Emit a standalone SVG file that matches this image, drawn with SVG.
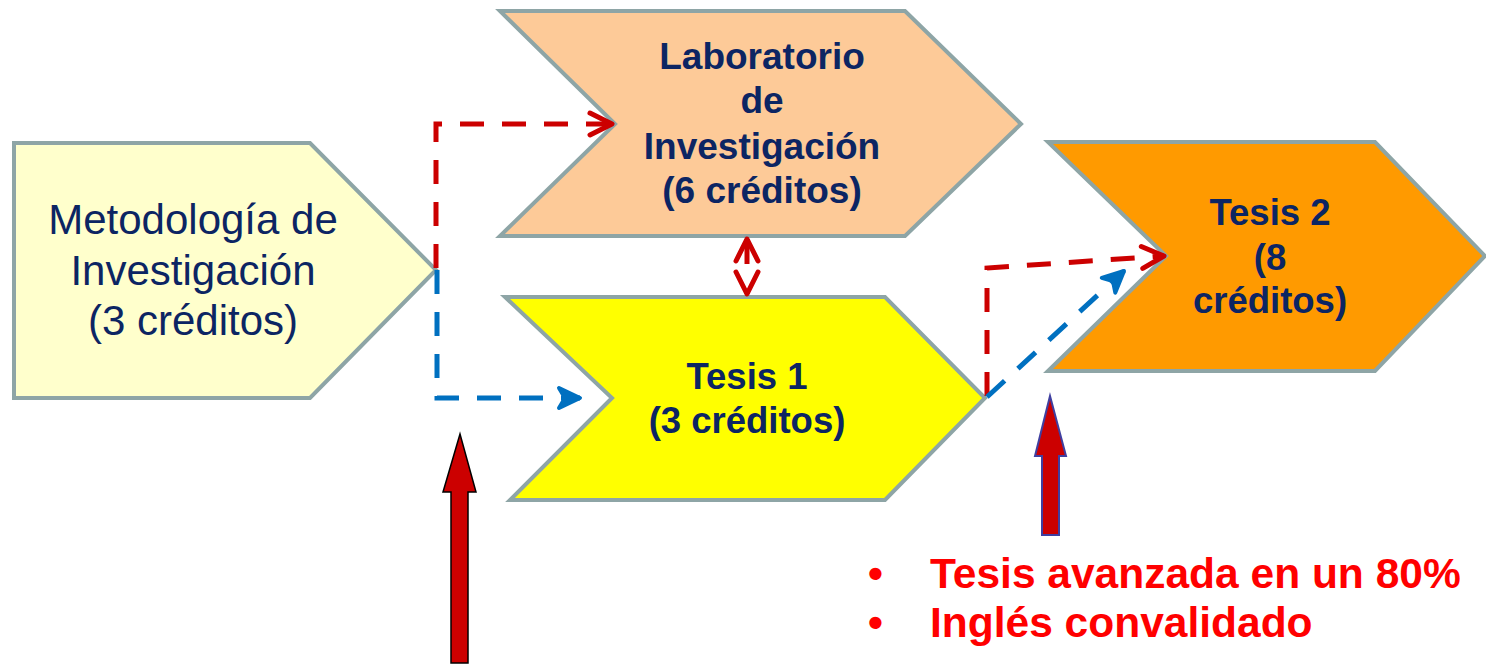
<svg xmlns="http://www.w3.org/2000/svg" width="1486" height="665" viewBox="0 0 1486 665">
<style>
.node{stroke:#8EA5A6;stroke-width:4;stroke-linejoin:miter}
.t{font-family:"Liberation Sans",Arial,sans-serif;fill:#0C2563;text-anchor:middle}
.b{font-weight:bold;font-size:36.5px}
.lb{font-weight:bold;font-size:37px}
.red{stroke:#CC0000;stroke-width:5;fill:none;stroke-dasharray:24 18}
.blue{stroke:#0070C0;stroke-width:5;fill:none;stroke-dasharray:24 18}
.note{font-family:"Liberation Sans",Arial,sans-serif;font-weight:bold;font-size:42.5px;fill:#FF0000}
</style>
<defs>
<marker id="hr" markerUnits="userSpaceOnUse" markerWidth="40" markerHeight="40" viewBox="-30 -20 40 40" refX="0" refY="0" orient="auto">
<path d="M-22,-11 L0,0 L-22,11" fill="none" stroke="#CC0000" stroke-width="5" stroke-linecap="round" stroke-linejoin="round"/>
</marker>
<marker id="hb" markerUnits="userSpaceOnUse" markerWidth="40" markerHeight="40" viewBox="-30 -20 40 40" refX="0" refY="0" orient="auto">
<path d="M-21,-10 L0,0 L-21,10 L-15,0 Z" fill="#0070C0" stroke="#0070C0" stroke-width="4" stroke-linecap="round" stroke-linejoin="round"/>
</marker>
</defs>
<rect width="1486" height="665" fill="#FFFFFF"/>

<g id="metodologia">
<polygon class="node" points="14,143 310,143 436,270 310,398 14,398" fill="#FFFFCC"/>
<text class="t" font-size="42" x="193" y="234">Metodología de</text>
<text class="t" font-size="42" x="193" y="285">Investigación</text>
<text class="t" font-size="42" x="193" y="335">(3 créditos)</text>
</g>

<g id="laboratorio">
<polygon class="node" points="500,11 905,11 1021,124 905,236 500,236 615,124" fill="#FDCA98"/>
<text class="t lb" x="762" y="69">Laboratorio</text>
<text class="t lb" x="762" y="113">de</text>
<text class="t lb" x="762" y="159">Investigación</text>
<text class="t lb" x="762" y="203">(6 créditos)</text>
</g>

<g id="tesis1">
<polygon class="node" points="505,297 885,297 985,398 885,500 510,500 612,398" fill="#FFFF00"/>
<text class="t b" x="747" y="389">Tesis 1</text>
<text class="t b" x="747" y="433">(3 créditos)</text>
</g>

<g id="tesis2">
<polygon class="node" points="1048,142 1375,142 1485,256 1375,371 1048,371 1166,256" fill="#FF9A00"/>
<text class="t b" x="1270" y="225">Tesis 2</text>
<text class="t b" x="1270" y="270">(8</text>
<text class="t b" x="1270" y="313">créditos)</text>
</g>

<g id="connectors">
<path class="red" d="M436,268 V124 H612" marker-end="url(#hr)"/>
<path class="blue" d="M437,270 V398 H580" marker-end="url(#hb)"/>
<path d="M747,264 V239" stroke="#CC0000" stroke-width="5" fill="none" marker-end="url(#hr)"/>
<path d="M747,289 V294" stroke="#CC0000" stroke-width="5" fill="none" marker-end="url(#hr)"/>
<path class="red" d="M987,396 V268 L1164,256" marker-end="url(#hr)"/>
<path class="blue" d="M987,397 L1124,271" marker-end="url(#hb)"/>
</g>

<g id="arrow1">
<polygon points="451,663 451,492 443,492 460,434 476,492 468,492 468,663" fill="#CC0000" stroke="#000000" stroke-width="1.5" stroke-linejoin="miter"/>
</g>
<g id="arrow2">
<polygon points="1042,535 1042,456 1035,456 1050,396 1066,456 1059,456 1059,535" fill="#CC0000" stroke="#3F3FA0" stroke-width="2"/>
</g>

<g id="notes">
<text class="note" x="868" y="588">•</text>
<text class="note" x="930" y="588">Tesis avanzada en un 80%</text>
<text class="note" x="868" y="637">•</text>
<text class="note" x="930" y="637">Inglés convalidado</text>
</g>
</svg>
